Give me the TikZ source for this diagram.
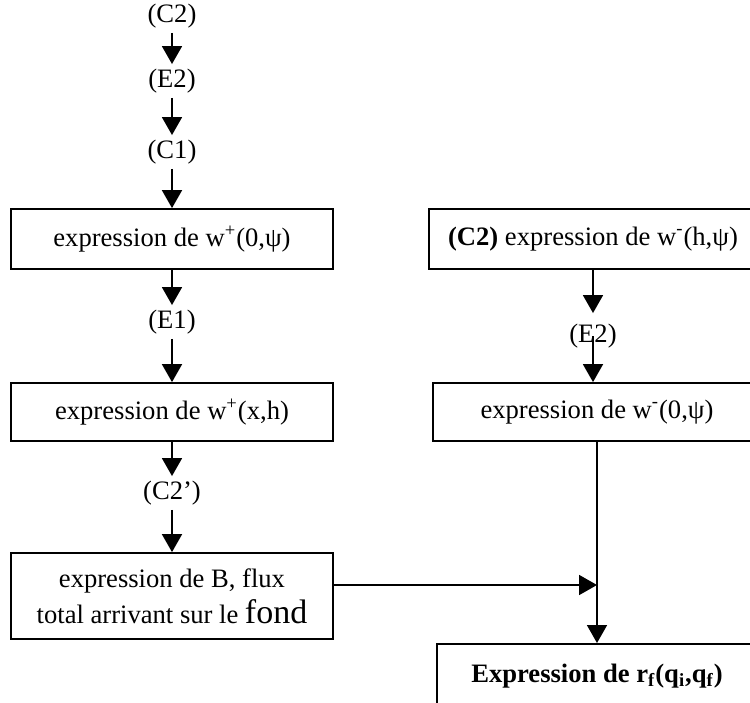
\documentclass[tikz,border=0pt]{standalone}
\usepackage{fontspec}
\setmainfont{Liberation Serif}
\usetikzlibrary{arrows.meta}

\begin{document}
\begin{tikzpicture}[x=0.5pt,y=-0.5pt,line width=0.9pt,
  font=\fontsize{13.3}{16}\selectfont,
  boite/.style={draw,rectangle,inner sep=0pt,minimum width=161pt,minimum height=30pt,align=center},
  lab/.style={inner sep=2pt},
  fl/.style={-{Triangle[length=9pt,width=10pt]}}]

\useasboundingbox (0,0) rectangle (750,702);
\clip (0,0) rectangle (750,702);

% colonne de gauche
\node[lab] (c2) at (172,16) {(C2)};
\node[lab] (e2) at (172,81) {(E2)};
\node[lab] (c1) at (172,152) {(C1)};
\node[boite] (wp0) at (172,239) {expression de w\textsuperscript{+}(0,ψ)};
\node[lab] (e1) at (172,322) {(E1)};
\node[boite,minimum height=29pt] (wpx) at (172,412) {expression de w\textsuperscript{+}(x,h)};
\node[lab] (c2p) at (172,493) {(C2’)};
\node[boite,minimum height=43pt,font=\fontsize{13.3}{18}\selectfont] (flux) at (172,596)
  {expression de B, flux\\total arrivant sur le {\fontsize{17}{18}\selectfont fond}};

% colonne de droite
\node[boite,minimum width=164pt] (wmh) at (593,239) {\textbf{(C2)} expression de w\textsuperscript{-}(h,ψ)};
\node[lab] (e2b) at (593,336) {(E2)};
\node[boite,minimum width=164pt,minimum height=29pt] (wm0) at (597,412) {expression de w\textsuperscript{-}(0,ψ)};
\node[boite,anchor=north,minimum width=160pt,inner ysep=10pt,text depth=30pt] (rf) at (597,643)
  {\textbf{Expression de r\textsubscript{f}(q\textsubscript{i},q\textsubscript{f})}};
\coordinate (j) at (597,585);

\draw[fl] (c2) -- (e2);
\draw[fl] (e2) -- (c1);
\draw[fl] (c1) -- (wp0);
\draw[fl] (wp0) -- (e1);
\draw[fl] (e1) -- (wpx);
\draw[fl] (wpx) -- (c2p);
\draw[fl] (c2p) -- (flux);

\draw[fl,shorten >=3pt] (wmh) -- (e2b);
\draw[fl] (e2b.center) -- (e2b.center |- wm0.north);
%\draw[fl] (e2b) -- (wm0);
\draw[fl] (wm0) -- (rf);
\draw[fl] (flux.east |- j) -- (j);
\end{tikzpicture}
\end{document}
